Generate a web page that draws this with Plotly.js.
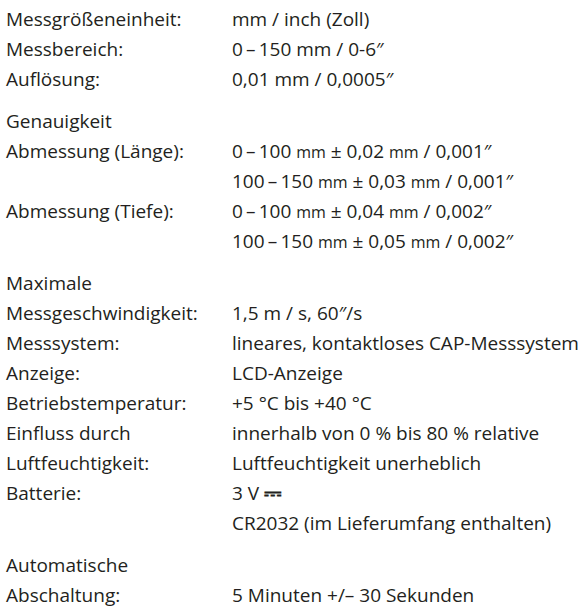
<!DOCTYPE html>
<html>
<head>
<meta charset="utf-8">
<script src="https://cdn.plot.ly/plotly-3.0.1.min.js"></script>
<style>html,body{margin:0;padding:0;background:#fff;}#chart{width:585px;height:615px;}</style>
</head>
<body>
<div id="chart"></div>
<script>
// Table content (rows); "" marks an empty cell. Groups are separated by an extra gap.
const MM = '<span style="font-size:16px">mm</span>';
const DC = '<span style="font-size:22px;font-weight:bold">⎓</span>';
const labels = [
  "Messgrößeneinheit:", "Messbereich:", "Auflösung:",
  "Genauigkeit", "Abmessung (Länge):", "", "Abmessung (Tiefe):", "",
  "Maximale", "Messgeschwindigkeit:", "Messsystem:", "Anzeige:", "Betriebstemperatur:",
  "Einfluss durch", "Luftfeuchtigkeit:", "Batterie:", "",
  "Automatische", "Abschaltung:"
];
const values = [
  "mm / inch (Zoll)", "0\u2009–\u2009150 mm / 0-6″", "0,01 mm / 0,0005″",
  "", "0\u2009–\u2009100 " + MM + " ± 0,02 " + MM + " / 0,001″",
  "100\u2009–\u2009150 " + MM + " ± 0,03 " + MM + " / 0,001″",
  "0\u2009–\u2009100 " + MM + " ± 0,04 " + MM + " / 0,002″",
  "100\u2009–\u2009150 " + MM + " ± 0,05 " + MM + " / 0,002″",
  "", "1,5 m / s, 60″/s", "lineares, kontaktloses CAP-Messsystem", "LCD-Anzeige", "+5 °C bis +40 °C",
  "innerhalb von 0 % bis 80 % relative", "Luftfeuchtigkeit unerheblich", "3 V " + DC,
  "CR2032 (im Lieferumfang enthalten)",
  "", "5 Minuten +/– 30 Sekunden"
];
const groupOf = [0,0,0, 1,1,1,1,1, 2,2,2,2,2,2,2,2,2, 3,3];

// layout constants (pixels)
const TOP = 21, STEP = 30, GAP = 12, LABEL_X = 6, VALUE_X = 232;
const rowY = labels.map((_, i) => TOP + i * STEP + groupOf[i] * GAP);

const font = {family: "'Open Sans', Lato, sans-serif", size: 19, color: "#231f20"};

const traces = [
  {x: labels.map(() => LABEL_X), y: rowY, text: labels, mode: "text", type: "scatter",
   textposition: "middle right", textfont: font, hoverinfo: "skip", showlegend: false},
  {x: values.map(() => VALUE_X), y: rowY, text: values, mode: "text", type: "scatter",
   textposition: "middle right", textfont: font, hoverinfo: "skip", showlegend: false}
];

const layout = {
  width: 585, height: 615,
  margin: {l: 0, r: 0, t: 0, b: 0},
  paper_bgcolor: "#fff", plot_bgcolor: "#fff",
  xaxis: {range: [0, 585], visible: false, fixedrange: true},
  yaxis: {range: [615, 0], visible: false, fixedrange: true},
  showlegend: false
};

Plotly.newPlot("chart", traces, layout, {staticPlot: true, displayModeBar: false});
</script>
</body>
</html>
